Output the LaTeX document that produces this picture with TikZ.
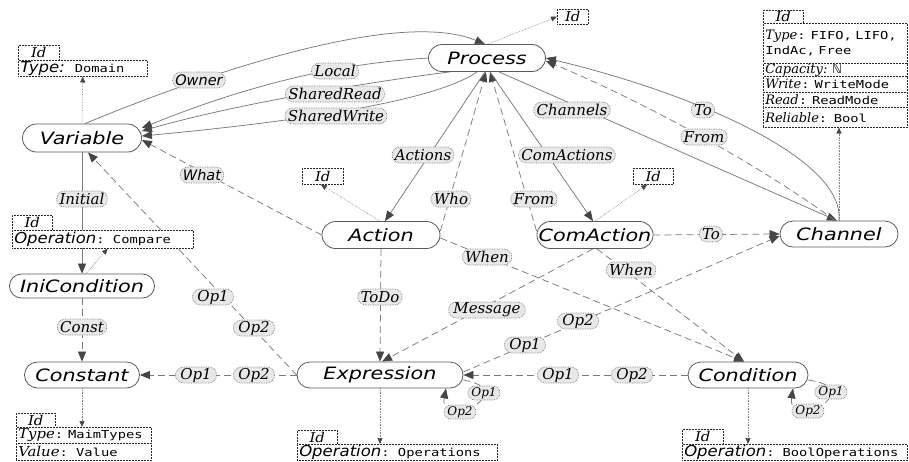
\documentclass[tikz,border=0pt]{standalone}
\usepackage{fontspec}
\usetikzlibrary{arrows.meta,shapes.misc,calc}
\newfontfamily\mnfont{DejaVu Sans}[FakeStretch=1.22]
\newfontfamily\lbserif{DejaVu Serif}
\newfontfamily\lbsans{DejaVu Sans}
\newfontfamily\atser{DejaVu Serif}[FakeStretch=1.1]
\newfontfamily\atsans{DejaVu Sans}[FakeStretch=1.1]
\newfontfamily\atmono{DejaVu Sans Mono}[FakeStretch=1.25]
\definecolor{edgegray}{HTML}{7A7A7A}
\definecolor{headgray}{HTML}{454545}
\definecolor{nodeborder}{HTML}{5A5A5A}
\definecolor{lblfill}{HTML}{E8E8E8}
\definecolor{lblborder}{HTML}{7C7C7C}
\pgfdeclarelayer{bg}
\pgfsetlayers{bg,main}
\newcommand{\idtxt}{{\atser\itshape\fontsize{13.5}{14}\selectfont Id}}
\newcommand{\sit}[1]{{\atsans\itshape\fontsize{15}{16}\selectfont #1}}
\newcommand{\ser}[1]{{\atser\itshape\fontsize{13.5}{15}\selectfont #1}}
\newcommand{\cser}[1]{{\lbserif\itshape\fontsize{13}{14}\selectfont #1}}
\newcommand{\mon}[1]{{\atmono\fontsize{11}{12}\selectfont #1}}
\tikzset{
  mainnode/.style={rounded rectangle, draw=nodeborder, line width=0.8pt, fill=white, inner sep=0pt,
    font=\mnfont\itshape\fontsize{17}{20}\selectfont},
  lbl/.style={rounded rectangle, draw=lblborder, densely dotted, line width=0.7pt, fill=lblfill,
    inner xsep=0.5pt, inner ysep=0.5pt, minimum height=16pt, font=\lbserif\itshape\fontsize{15}{17}\selectfont},
  lbls/.style={lbl, font=\lbsans\itshape\fontsize{14.5}{17}\selectfont},
  lblsm/.style={lbl, minimum height=14pt, font=\lbserif\itshape\fontsize{12}{14}\selectfont},
  solidedge/.style={draw=edgegray, line width=0.75pt, -{Triangle[length=10pt,width=8pt,color=headgray]}},
  dashedge/.style={solidedge, dash pattern=on 7pt off 4pt},
  dotedge/.style={draw=gray, line width=0.6pt, densely dotted, -{Triangle[length=6pt,width=5pt,color=headgray]}},
  attr/.style={draw=black!85, densely dotted, line width=0.5pt, fill=white, inner xsep=2pt, inner ysep=0pt,
    anchor=north west, align=left},
  idbox/.style={attr, align=center},
}
\begin{document}
\begin{tikzpicture}[x=1pt,y=-1pt]
\useasboundingbox (0,0) rectangle (909,461);
% main nodes
\node[mainnode, minimum width=117pt, minimum height=27pt] (Process) at (487,58) {Process};
\node[mainnode, minimum width=119pt, minimum height=28pt] (Variable) at (82,138) {Variable};
\node[mainnode, minimum width=118pt, minimum height=27pt] (Action) at (381,235) {Action};
\node[mainnode, minimum width=116pt, minimum height=27pt] (ComAction) at (595,235) {ComAction};
\node[mainnode, minimum width=118pt, minimum height=26pt] (Channel) at (839,234) {Channel};
\node[mainnode, minimum width=145pt, minimum height=24pt] (IniCondition) at (82,286) {IniCondition};
\node[mainnode, minimum width=115pt, minimum height=26pt] (Constant) at (82,375) {Constant};
\node[mainnode, minimum width=166pt, minimum height=26pt] (Expression) at (380,375) {Expression};
\node[mainnode, minimum width=120pt, minimum height=26pt] (Condition) at (748,375) {Condition};
% attribute boxes
\node[idbox, text width=37pt, minimum height=15pt] (varid) at (18,45) {\idtxt};
\node[attr, text width=125pt, minimum height=16pt] (vartype) at (18,60) {\mbox{\sit{Type:}\hspace{10pt}\mon{Domain}}};
\node[idbox, text width=27pt, minimum height=15pt] (procid) at (557,9) {\idtxt};
\node[idbox, text width=37pt, minimum height=16pt] (actid) at (302,168) {\idtxt};
\node[idbox, text width=36pt, minimum height=16pt] (comid) at (633,168) {\idtxt};
\node[idbox, text width=36pt, minimum height=13pt] (chanid) at (763,10) {\idtxt};
\node[attr, text width=140pt, minimum height=40pt] (chantype) at (763,23)
  {\mbox{\cser{Type}\mon{: FIFO, LIFO,}}\\[3pt]\mbox{\mon{IndAc, Free}}};
\node[attr, text width=140pt, minimum height=13pt] (chancap) at (763,63) {\mbox{\cser{Capacity:} {\lbsans\fontsize{12}{13}\selectfont ℕ}}};
\node[attr, text width=140pt, minimum height=16pt] (chanwrite) at (763,76) {\mbox{\cser{Write}\mon{: WriteMode}}};
\node[attr, text width=140pt, minimum height=15pt] (chanread) at (763,92) {\mbox{\cser{Read}\mon{: ReadMode}}};
\node[attr, text width=140pt, minimum height=20pt] (chanrel) at (763,107) {\mbox{\cser{Reliable}\mon{:\ \ Bool}}};
\node[idbox, text width=36pt, minimum height=15pt] (iniid) at (12,215) {\idtxt};
\node[attr, text width=177pt, minimum height=18pt] (iniop) at (12,230) {\mbox{\sit{Operation}\mon{: \ Compare}}};
\node[idbox, text width=35pt, minimum height=14pt] (constid) at (16,413) {\idtxt};
\node[attr, text width=131pt, minimum height=16pt] (consttype) at (16,427) {\mbox{\ser{Type}\mon{: MaimTypes}}};
\node[attr, text width=131pt, minimum height=17pt] (constval) at (16,443) {\mbox{\ser{Value}\mon{: \ Value}}};
\node[idbox, text width=36pt, minimum height=14pt] (exprid) at (297,430) {\idtxt};
\node[attr, text width=196pt, minimum height=16pt] (exprop) at (297,444) {\mbox{\sit{Operation}\mon{: \ Operations}}};
\node[idbox, text width=37pt, minimum height=15pt] (condid) at (682,429) {\idtxt};
\node[attr, text width=221pt, minimum height=16pt] (condop) at (682,444) {\mbox{\sit{Operation}\mon{:}\hspace{8pt}\mon{BoolOperations}}};
% edge labels
\node[lbls] (lOwner) at (199,80) {Owner};
\node[lbl] (lLocal) at (335,71) {Local};
\node[lbl] (lSR) at (335,94) {SharedRead};
\node[lbl] (lSW) at (336,116) {SharedWrite};
\node[lbl] (lChannels) at (572,110) {Channels};
\node[lbl] (lActions) at (423,155) {Actions};
\node[lbl] (lComActions) at (567,155) {ComActions};
\node[lbl] (lToP) at (703,110) {To};
\node[lbl] (lFromP) at (704,137) {From};
\node[lbls] (lWhat) at (202,175) {What};
\node[lbl] (lWho) at (451,199) {Who};
\node[lbl] (lFrom) at (534,199) {From};
\node[lbl] (lInitial) at (82,199) {Initial};
\node[lbl] (lWhenA) at (487,257) {When};
\node[lbl] (lWhenC) at (631,270) {When};
\node[lbl] (lToC) at (711,234) {To};
\node[lbl] (lToDo) at (380,297) {ToDo};
\node[lbl] (lMessage) at (487,310) {Message};
\node[lbl] (lOp1v) at (213,297) {Op1};
\node[lbl] (lOp2v) at (254,328) {Op2};
\node[lbl] (lConst) at (82,327) {Const};
\node[lbl] (lOp1k) at (196,375) {Op1};
\node[lbl] (lOp2k) at (254,375) {Op2};
\node[lbl] (lOp1c) at (525,345) {Op1};
\node[lbl] (lOp2c) at (578,321) {Op2};
\node[lbl] (lOp1d) at (558,375) {Op1};
\node[lbl] (lOp2d) at (632,375) {Op2};
\node[lblsm] (lOp1e) at (484,393) {Op1};
\node[lblsm] (lOp2e) at (460,412) {Op2};
\node[lblsm] (lOp1f) at (831,392) {Op1};
\node[lblsm] (lOp2f) at (808,411) {Op2};
% connectors
\begin{pgfonlayer}{bg}
\draw[solidedge] ([xshift=3pt]Variable.north) .. controls (170,88) and (390,5) .. ([xshift=-2pt]Process.north);
\draw[solidedge] (Process.west) .. controls (370,62) and (280,72) .. ([yshift=10pt]Variable.east);
\draw[solidedge] ([xshift=-37pt]Process.south) .. controls (400,78) and (250,100) .. ([yshift=7pt]Variable.east);
\draw[solidedge] ([xshift=-10pt]Process.south) .. controls (430,105) and (260,125) .. ([yshift=2pt]Variable.east);
\draw[solidedge] ([xshift=-2pt]Process.south) -- ([xshift=4pt]Action.north);
\draw[dashedge] ([yshift=4pt]Action.east) -- ([xshift=-1pt]Process.south);
\draw[dashedge] ([yshift=4pt]ComAction.west) -- ([xshift=3pt]Process.south);
\draw[solidedge] ([xshift=3pt]Process.south) -- ([xshift=-2pt]ComAction.north);
\draw[solidedge] ([xshift=12pt]Process.south) -- ([xshift=-2pt]Channel.north);
\draw[solidedge] (Channel.north) .. controls (845,160) and (700,95) .. (Process.east);
\draw[dashedge] ([xshift=-4pt]Channel.north) .. controls (760,165) and (640,100) .. ([yshift=-3pt]Process.east);
\draw[dashedge] (Action.west) -- ([yshift=-2pt]Variable.east);
\draw[solidedge] (Variable.south) -- (IniCondition.north);
\draw[dashedge] (IniCondition.south) -- (Constant.north);
\draw[dashedge] (Expression.west) -- ([xshift=6pt]Variable.south);
\draw[dashedge] (Expression.west) -- (Constant.east);
\draw[dashedge] (Action.south) -- (Expression.north);
\draw[dashedge] ([xshift=-2pt]ComAction.south) -- ([xshift=2pt]Expression.north);
\draw[dashedge] (Condition.west) -- (Expression.east);
\draw[dashedge] ([yshift=3pt]Expression.east) -- ([yshift=-2pt]Channel.west);
\draw[dashedge] ([yshift=-3pt]Action.east) -- ([xshift=-4pt]Condition.north);
\draw[dashedge] ([xshift=2pt]ComAction.south) -- ([xshift=-4pt]Condition.north);
\draw[dashedge] (ComAction.east) -- (Channel.west);
\draw[dashedge] ([yshift=-5pt]Expression.east) .. controls (478,383) and (484,386) .. (484,393)
  .. controls (484,410) and (440,420) .. ([xshift=66pt]Expression.south);
\draw[dashedge] ([yshift=-5pt]Condition.east) .. controls (825,383) and (831,386) .. (831,392)
  .. controls (831,410) and (788,420) .. ([xshift=45pt]Condition.south);
% attribute links
\draw[dotedge] (Variable.north) -- (vartype.south);
\draw[dotedge] ([xshift=1pt]Process.north) -- (procid.west);
\draw[dotedge] ([xshift=-1pt]Action.north) -- ([xshift=-2pt]actid.south);
\draw[dotedge] (ComAction.north) -- ([xshift=-6pt]comid.south);
\draw[dotedge] (Channel.north) -- (Channel.north |- chanrel.south);
\draw[dotedge] ([xshift=4pt]IniCondition.north) -- ([xshift=5pt]iniop.south);
\draw[dotedge] (Constant.south) -- (Constant.south |- consttype.north);
\draw[dotedge] (Expression.south) -- (Expression.south |- exprop.north);
\draw[dotedge] (Condition.south) -- (Condition.south |- condop.north);
\end{pgfonlayer}
\end{tikzpicture}
\end{document}
